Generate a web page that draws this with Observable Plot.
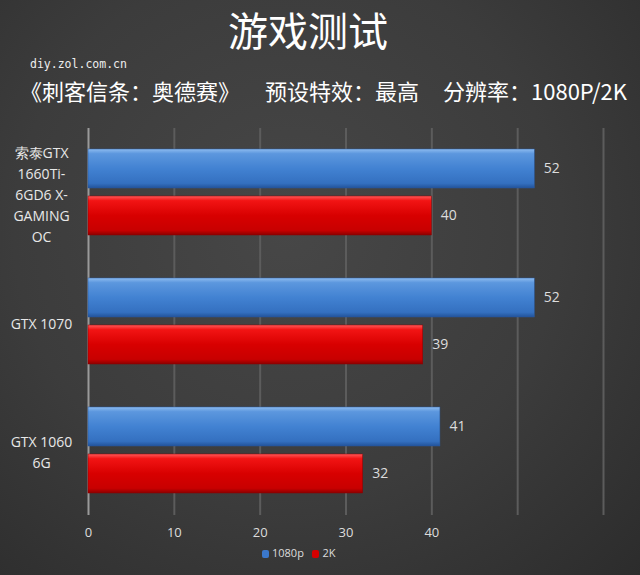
<!DOCTYPE html>
<html>
<head>
<meta charset="utf-8">
<script src="https://cdn.jsdelivr.net/npm/d3@7"></script>
<script src="https://cdn.jsdelivr.net/npm/@observablehq/plot@0.6"></script>
<style>
  html, body { margin: 0; padding: 0; }
  #wrap {
    position: relative; width: 640px; height: 575px; overflow: hidden;
    background: radial-gradient(ellipse at 45% 40%, #474747 0%, #3c3c3c 55%, #2c2c2c 100%);
    font-family: "Noto Sans CJK SC", "Open Sans", sans-serif; color: #fff;
  }
  .abs { position: absolute; white-space: nowrap; }
  #title { left: 0; width: 616px; top: 3px; text-align: center; font-size: 40px; line-height: 52px; }
  #site { left: 30px; top: 57px; font-family: "DejaVu Sans Mono", monospace; font-size: 11.5px; color: #eee; }
  .sub { top: 75px; font-size: 22px; line-height: 30px; }
  #chart { position: absolute; left: 0; top: 120px; }
  #legend { top: 545px; left: 262px; font-family: "Open Sans", sans-serif; font-size: 11px; color: #ddd; }
  .sw { display: inline-block; width: 7px; height: 8px; border-radius: 2px; margin-right: 3px; vertical-align: -1px; }
</style>
</head>
<body>
<div id="wrap">
  <div id="title" class="abs">游戏测试</div>
  <div id="site" class="abs">diy.zol.com.cn</div>
  <div class="abs sub" style="left:20px">《刺客信条：奥德赛》</div>
  <div class="abs sub" style="left:265px">预设特效：最高</div>
  <div class="abs sub" style="left:443px">分辨率：1080P/2K</div>
  <div id="chart"></div>
  <div id="legend" class="abs"><span class="sw" style="background:#3b78cc"></span>1080p&nbsp;&nbsp;&nbsp;<span class="sw" style="background:#d40000"></span>2K</div>
</div>
<script>
const categories = ["索泰GTX 1660Ti-6GD6 X-GAMING OC", "GTX 1070", "GTX 1060 6G"];
const categoryLabels = ["索泰GTX\n1660Ti-\n6GD6 X-\nGAMING\nOC", "GTX 1070", "GTX 1060\n6G"];
const series = ["1080p", "2K"];
const values1080p = [52, 52, 41];
const values2K = [40, 39, 32];
const gridTicks = [0, 10, 20, 30, 40, 50, 60];
const xTickLabels = [0, 10, 20, 30, 40];

const data = [];
categories.forEach((c, i) => {
  data.push({group: c, series: series[0], value: values1080p[i]});
  data.push({group: c, series: series[1], value: values2K[i]});
});
const labelOf = new Map(categories.map((c, i) => [c, categoryLabels[i]]));

const plot = Plot.plot({
  width: 640,
  height: 423,
  marginLeft: 88,
  marginRight: 37,
  marginTop: 8,
  marginBottom: 28,
  style: {background: "transparent", color: "#ddd", fontFamily: "Open Sans, sans-serif", fontSize: "14px", overflow: "visible"},
  x: {domain: [0, 60], label: null},
  fy: {domain: categories, padding: 0, label: null},
  y: {domain: series, paddingInner: 0.16, paddingOuter: 0.43, label: null},
  marks: [
    Plot.ruleX(gridTicks.filter(d => d > 0), {stroke: "#5c5c5c", strokeWidth: 2}),
    Plot.ruleX([0], {stroke: "#9a9a9a", strokeWidth: 2}),
    Plot.barX(data.filter(d => d.series === "1080p"), {fy: "group", y: "series", x: "value", fill: "url(#gBlue)", stroke: "#2a5aa0", strokeWidth: 0.5}),
    Plot.barX(data.filter(d => d.series === "2K"), {fy: "group", y: "series", x: "value", fill: "url(#gRed)", stroke: "#8a0000", strokeWidth: 0.5}),
    Plot.text(data, {fy: "group", y: "series", x: "value", text: d => String(d.value), dx: 9, textAnchor: "start", fill: "#ddd", fontSize: 14}),
    Plot.axisX({ticks: xTickLabels, tickSize: 0, tickPadding: 12, fontSize: 13, color: "#ddd", label: null}),
    Plot.axisY({ticks: [], label: null}),
    Plot.axisFy({anchor: "left", tickSize: 0, tickPadding: 0, textAnchor: "middle", dx: -47, lineHeight: 1.5, fontSize: 14, fill: "#e8e8e8", tickFormat: d => labelOf.get(d), label: null})
  ]
});

// gradients for the glossy bars
const ns = "http://www.w3.org/2000/svg";
const defs = document.createElementNS(ns, "defs");
defs.innerHTML = `
  <linearGradient id="gBlue" x1="0" y1="0" x2="0" y2="1">
    <stop offset="0" stop-color="#8ebcf0"/>
    <stop offset="0.12" stop-color="#5c97de"/>
    <stop offset="0.5" stop-color="#4282d2"/>
    <stop offset="0.88" stop-color="#3470c0"/>
    <stop offset="1" stop-color="#22539a"/>
  </linearGradient>
  <linearGradient id="gRed" x1="0" y1="0" x2="0" y2="1">
    <stop offset="0" stop-color="#ff5a5a"/>
    <stop offset="0.12" stop-color="#f21414"/>
    <stop offset="0.5" stop-color="#d80000"/>
    <stop offset="0.88" stop-color="#c80000"/>
    <stop offset="1" stop-color="#8c0000"/>
  </linearGradient>`;
plot.insertBefore(defs, plot.firstChild);
document.getElementById("chart").appendChild(plot);
</script>
</body>
</html>
